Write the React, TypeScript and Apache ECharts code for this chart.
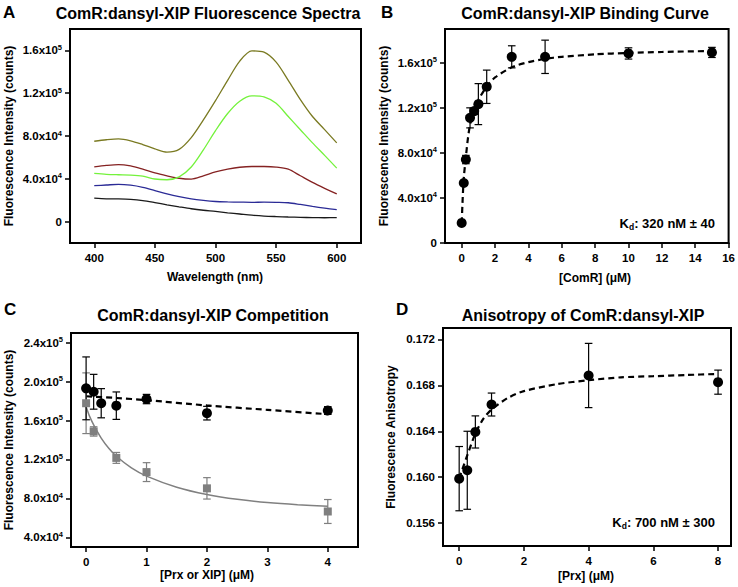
import React, { useEffect, useRef } from 'react';
import * as echarts from 'echarts';

const FONT = "'Liberation Sans', Arial, Helvetica, sans-serif";

// ---------- Panel A: fluorescence spectra ----------
const wavelengths = [400, 410, 420, 430, 440, 450, 460, 470, 480, 490, 500, 510, 520, 530, 540, 550, 560, 570, 580, 590, 600];
const specOlive = [75100, 76500, 77300, 75500, 72000, 68000, 65000, 67500, 78500, 95000, 113000, 132000, 150000, 159500, 158300, 149000, 132000, 114000, 98200, 86000, 73600];
const specGreen = [45000, 44200, 43800, 43500, 42500, 39800, 39100, 41800, 51000, 67000, 85000, 101000, 112500, 117500, 116500, 110500, 98200, 85900, 73600, 61900, 50000];
const specMaroon = [51100, 52500, 53300, 52000, 49000, 45500, 42800, 40500, 39700, 42800, 46500, 49000, 50800, 51500, 51500, 51000, 49000, 42800, 36600, 31100, 25900];
const specBlue = [33600, 34200, 34800, 34000, 32000, 29000, 25900, 23300, 21200, 19800, 18800, 18400, 18200, 18000, 18200, 18000, 17600, 16000, 14200, 12600, 11100];
const specBlack = [21900, 21300, 21200, 20800, 19700, 17800, 15700, 13800, 12000, 10600, 9500, 8200, 7100, 6000, 5200, 4700, 4300, 4000, 3700, 3600, 3700];
const aXTicks = [400, 450, 500, 550, 600];
const aYTicks = [0, 40000, 80000, 120000, 160000];

// ---------- Panel B: binding curve ----------
const bConc = [0, 0.125, 0.25, 0.5, 0.75, 1, 1.5, 3, 5, 10, 15];
const bIntensity = [17800, 53300, 74100, 111100, 117100, 123300, 138700, 165300, 165300, 168300, 169200];
const bError = [1500, 2000, 3700, 8900, 3000, 18200, 14800, 9800, 14800, 5000, 4500];
const bFitX = [0, 0.05, 0.1, 0.15, 0.25, 0.35, 0.5, 0.75, 1, 1.5, 2, 3, 4, 5, 6, 8, 10, 12, 15];
const bFitY = [17800, 36000, 52000, 62000, 76000, 90000, 105000, 118000, 127000, 139000, 147000, 156000, 160600, 163500, 165300, 167500, 168800, 169600, 170500];
const bXTicks = [0, 2, 4, 6, 8, 10, 12, 14, 16];
const bYTicks = [0, 40000, 80000, 120000, 160000];

// ---------- Panel C: competition ----------
const cConc = [0, 0.125, 0.25, 0.5, 1, 2, 4];
const cXipIntensity = [193100, 189600, 177800, 175300, 182100, 167600, 170300];
const cXipError = [32300, 17900, 15000, 14100, 4800, 7000, 4000];
const cPrxConc = [0, 0.125, 0.5, 1, 2, 4];
const cPrxIntensity = [177800, 148800, 121600, 107000, 90300, 66500];
const cPrxError = [31200, 4800, 5600, 9700, 11000, 12300];
const cXipFitX = [0, 0.5, 1, 2, 3, 4];
const cXipFitY = [185000, 183200, 181000, 175500, 171000, 166500];
const cPrxFitX = [0, 0.06, 0.125, 0.25, 0.375, 0.5, 0.75, 1, 1.5, 2, 2.5, 3, 3.5, 4];
const cPrxFitY = [174300, 164000, 155600, 142000, 131500, 123300, 111400, 102900, 91500, 84000, 79000, 75700, 73500, 72000];
const cXTicks = [0, 1, 2, 3, 4];
const cYTicks = [40000, 80000, 120000, 160000, 200000, 240000];

// ---------- Panel D: anisotropy ----------
const dConc = [0, 0.25, 0.5, 1, 4, 8];
const dAniso = [0.15987, 0.1606, 0.16394, 0.16633, 0.16886, 0.16828];
const dError = [0.0028, 0.0034, 0.0014, 0.001, 0.0028, 0.00105];
const dFitX = [0, 0.1, 0.25, 0.5, 0.75, 1, 1.5, 2, 3, 4, 5, 6, 7, 8];
const dFitY = [0.15987, 0.1607, 0.1619, 0.1638, 0.1651, 0.1659, 0.1669, 0.1675, 0.1681, 0.16845, 0.1687, 0.1688, 0.1689, 0.169];
const dXTicks = [0, 2, 4, 6, 8];
const dYTicks = [0.156, 0.16, 0.164, 0.168, 0.172];

const zip = (xs: number[], ys: number[]) => xs.map((x, i) => [x, ys[i]]);
const zip3 = (xs: number[], ys: number[], es: number[]) => xs.map((x, i) => [x, ys[i], es[i]]);

const sciFmt = (v: number) => {
  if (v === 0) return '0';
  const e = Math.floor(Math.log10(v) + 1e-9);
  const m = v / Math.pow(10, e);
  return `{m|${m.toFixed(1)}x10}{s|${e}}`;
};

const labelRich = {
  m: { fontSize: 11.5, fontWeight: 'bold', fontFamily: FONT, color: '#000', lineHeight: 14 },
  s: { fontSize: 7.5, fontWeight: 'bold', fontFamily: FONT, color: '#000', lineHeight: 9, verticalAlign: 'top' },
};

function xAxisCfg(gridIndex: number, min: number, max: number, ticks: number[]) {
  return {
    type: 'value', gridIndex, min, max,
    axisLine: { show: true, onZero: false, lineStyle: { color: '#000', width: 2 } },
    axisTick: { show: true, inside: false, length: 5, customValues: ticks, lineStyle: { color: '#000', width: 1.5 } },
    axisLabel: { customValues: ticks, fontSize: 11.5, fontWeight: 'bold', fontFamily: FONT, color: '#000', margin: 9 },
    splitLine: { show: false },
  };
}

function yAxisCfg(gridIndex: number, min: number, max: number, ticks: number[], formatter: (v: number) => string) {
  return {
    type: 'value', gridIndex, min, max,
    axisLine: { show: true, onZero: false, lineStyle: { color: '#000', width: 2 } },
    axisTick: { show: true, inside: false, length: 5, customValues: ticks, lineStyle: { color: '#000', width: 1.5 } },
    axisLabel: {
      customValues: ticks, formatter, fontSize: 11.5, fontWeight: 'bold', fontFamily: FONT, color: '#000', margin: 8,
      rich: labelRich,
    },
    splitLine: { show: false },
  };
}

function errorBars(axisIndex: number, data: number[][], color: string) {
  return {
    type: 'custom', xAxisIndex: axisIndex, yAxisIndex: axisIndex, z: 3, clip: false,
    data,
    encode: { x: 0, y: 1 },
    renderItem: (_params: any, api: any) => {
      const x = api.value(0), y = api.value(1), e = api.value(2);
      const p1 = api.coord([x, y + e]);
      const p2 = api.coord([x, y - e]);
      const w = 3.8;
      const style = { stroke: color, lineWidth: 1.2, fill: 'none' };
      return {
        type: 'group',
        children: [
          { type: 'line', shape: { x1: p1[0], y1: p1[1], x2: p2[0], y2: p2[1] }, style },
          { type: 'line', shape: { x1: p1[0] - w, y1: p1[1], x2: p1[0] + w, y2: p1[1] }, style },
          { type: 'line', shape: { x1: p2[0] - w, y1: p2[1], x2: p2[0] + w, y2: p2[1] }, style },
        ],
      };
    },
  };
}

function specLine(data: number[], color: string) {
  return {
    type: 'line', xAxisIndex: 0, yAxisIndex: 0, data: zip(wavelengths, data),
    symbol: 'none', smooth: 0.3,
    lineStyle: { color, width: 1.3 },
  };
}

function fitLine(axisIndex: number, xs: number[], ys: number[], color: string, dashed: boolean, width: number) {
  return {
    type: 'line', xAxisIndex: axisIndex, yAxisIndex: axisIndex, data: zip(xs, ys),
    symbol: 'none', smooth: 0.25, z: 2,
    lineStyle: { color, width, type: dashed ? [6, 4] : 'solid' },
  };
}

function markers(axisIndex: number, xs: number[], ys: number[], symbol: string, size: number, color: string) {
  return {
    type: 'scatter', xAxisIndex: axisIndex, yAxisIndex: axisIndex, data: zip(xs, ys),
    symbol, symbolSize: size, z: 5,
    itemStyle: { color, opacity: 1 },
  };
}

const txt = (x: number, y: number, text: string, size: number, align = 'center', rotation = 0) => ({
  type: 'text', x, y, rotation,
  style: { text, fontSize: size, fontWeight: 'bold', fontFamily: FONT, fill: '#000', textAlign: align, textVerticalAlign: 'middle' },
});

const kdText = (x: number, y: number, rest: string) => ({
  type: 'text', x, y,
  style: {
    text: `{k|K}{d|d}{k|${rest}}`,
    textAlign: 'right', textVerticalAlign: 'middle',
    rich: {
      k: { fontSize: 13, fontWeight: 'bold', fontFamily: FONT, color: '#000', lineHeight: 16 },
      d: { fontSize: 8.5, fontWeight: 'bold', fontFamily: FONT, color: '#000', lineHeight: 9, verticalAlign: 'bottom' },
    },
  },
});

const gridBox = { show: true, borderColor: '#000', borderWidth: 2, backgroundColor: 'transparent' };

const option: any = {
  animation: false,
  backgroundColor: '#fff',
  grid: [
    { left: 70, top: 29, width: 291, height: 214, ...gridBox },
    { left: 445, top: 29, width: 286, height: 214, ...gridBox },
    { left: 71, top: 333, width: 287, height: 214, ...gridBox },
    { left: 443, top: 328, width: 288, height: 218, ...gridBox },
  ],
  xAxis: [
    xAxisCfg(0, 380, 620, aXTicks),
    xAxisCfg(1, -1, 16, bXTicks),
    xAxisCfg(2, -0.25, 4.5, cXTicks),
    xAxisCfg(3, -0.5, 8.4, dXTicks),
  ],
  yAxis: [
    yAxisCfg(0, -20000, 180000, aYTicks, sciFmt),
    yAxisCfg(1, 0, 190000, bYTicks, sciFmt),
    yAxisCfg(2, 30000, 250000, cYTicks, sciFmt),
    yAxisCfg(3, 0.154, 0.173, dYTicks, (v: number) => `{m|${v.toFixed(3)}}`),
  ],
  series: [
    specLine(specBlack, '#1a1a1a'),
    specLine(specBlue, '#2b2b96'),
    specLine(specMaroon, '#852222'),
    specLine(specGreen, '#74f23c'),
    specLine(specOlive, '#7a7a22'),

    fitLine(1, bFitX, bFitY, '#000', true, 2.2),
    errorBars(1, zip3(bConc, bIntensity, bError), '#000'),
    markers(1, bConc, bIntensity, 'circle', 10, '#000'),

    fitLine(2, cPrxFitX, cPrxFitY, '#808080', false, 1.5),
    errorBars(2, zip3(cPrxConc, cPrxIntensity, cPrxError), '#7f7f7f'),
    markers(2, cPrxConc, cPrxIntensity, 'rect', 8, '#7f7f7f'),
    fitLine(2, cXipFitX, cXipFitY, '#000', true, 2.2),
    errorBars(2, zip3(cConc, cXipIntensity, cXipError), '#000'),
    markers(2, cConc, cXipIntensity, 'circle', 10, '#000'),

    fitLine(3, dFitX, dFitY, '#000', true, 2.2),
    errorBars(3, zip3(dConc, dAniso, dError), '#000'),
    markers(3, dConc, dAniso, 'circle', 10, '#000'),
  ],
  graphic: [
    txt(3, 12, 'A', 17, 'left'),
    txt(381, 12, 'B', 17, 'left'),
    txt(4, 309, 'C', 17, 'left'),
    txt(396, 309, 'D', 17, 'left'),
    txt(208, 13, 'ComR:dansyl-XIP Fluorescence Spectra', 16),
    txt(585, 13, 'ComR:dansyl-XIP Binding Curve', 16),
    txt(213, 315, 'ComR:dansyl-XIP Competition', 16),
    txt(583, 315, 'Anisotropy of ComR:dansyl-XIP', 16),
    txt(9, 136, 'Fluorescence Intensity (counts)', 12, 'center', Math.PI / 2),
    txt(384, 136, 'Fluorescence Intensity (counts)', 12, 'center', Math.PI / 2),
    txt(9, 440, 'Fluorescence Intensity (counts)', 12, 'center', Math.PI / 2),
    txt(391, 437, 'Fluorescence Anisotropy', 12, 'center', Math.PI / 2),
    txt(215, 277, 'Wavelength (nm)', 12),
    txt(595, 278, '[ComR] (\u03bcM)', 12),
    txt(207, 575, '[Prx or XIP] (\u03bcM)', 12),
    txt(586, 576, '[Prx] (\u03bcM)', 12),
    kdText(715, 223, ': 320 nM \u00b1 40'),
    kdText(715, 522, ': 700 nM \u00b1 300'),
  ],
};

export default function App() {
  const ref = useRef<HTMLDivElement>(null);
  useEffect(() => {
    const chart = echarts.init(ref.current!, null, { renderer: 'svg' });
    chart.setOption(option);
    return () => chart.dispose();
  }, []);
  return (
    <div
      ref={ref}
      style={{ position: 'fixed', left: 0, top: 0, width: 738, height: 587, background: '#fff' }}
    />
  );
}
